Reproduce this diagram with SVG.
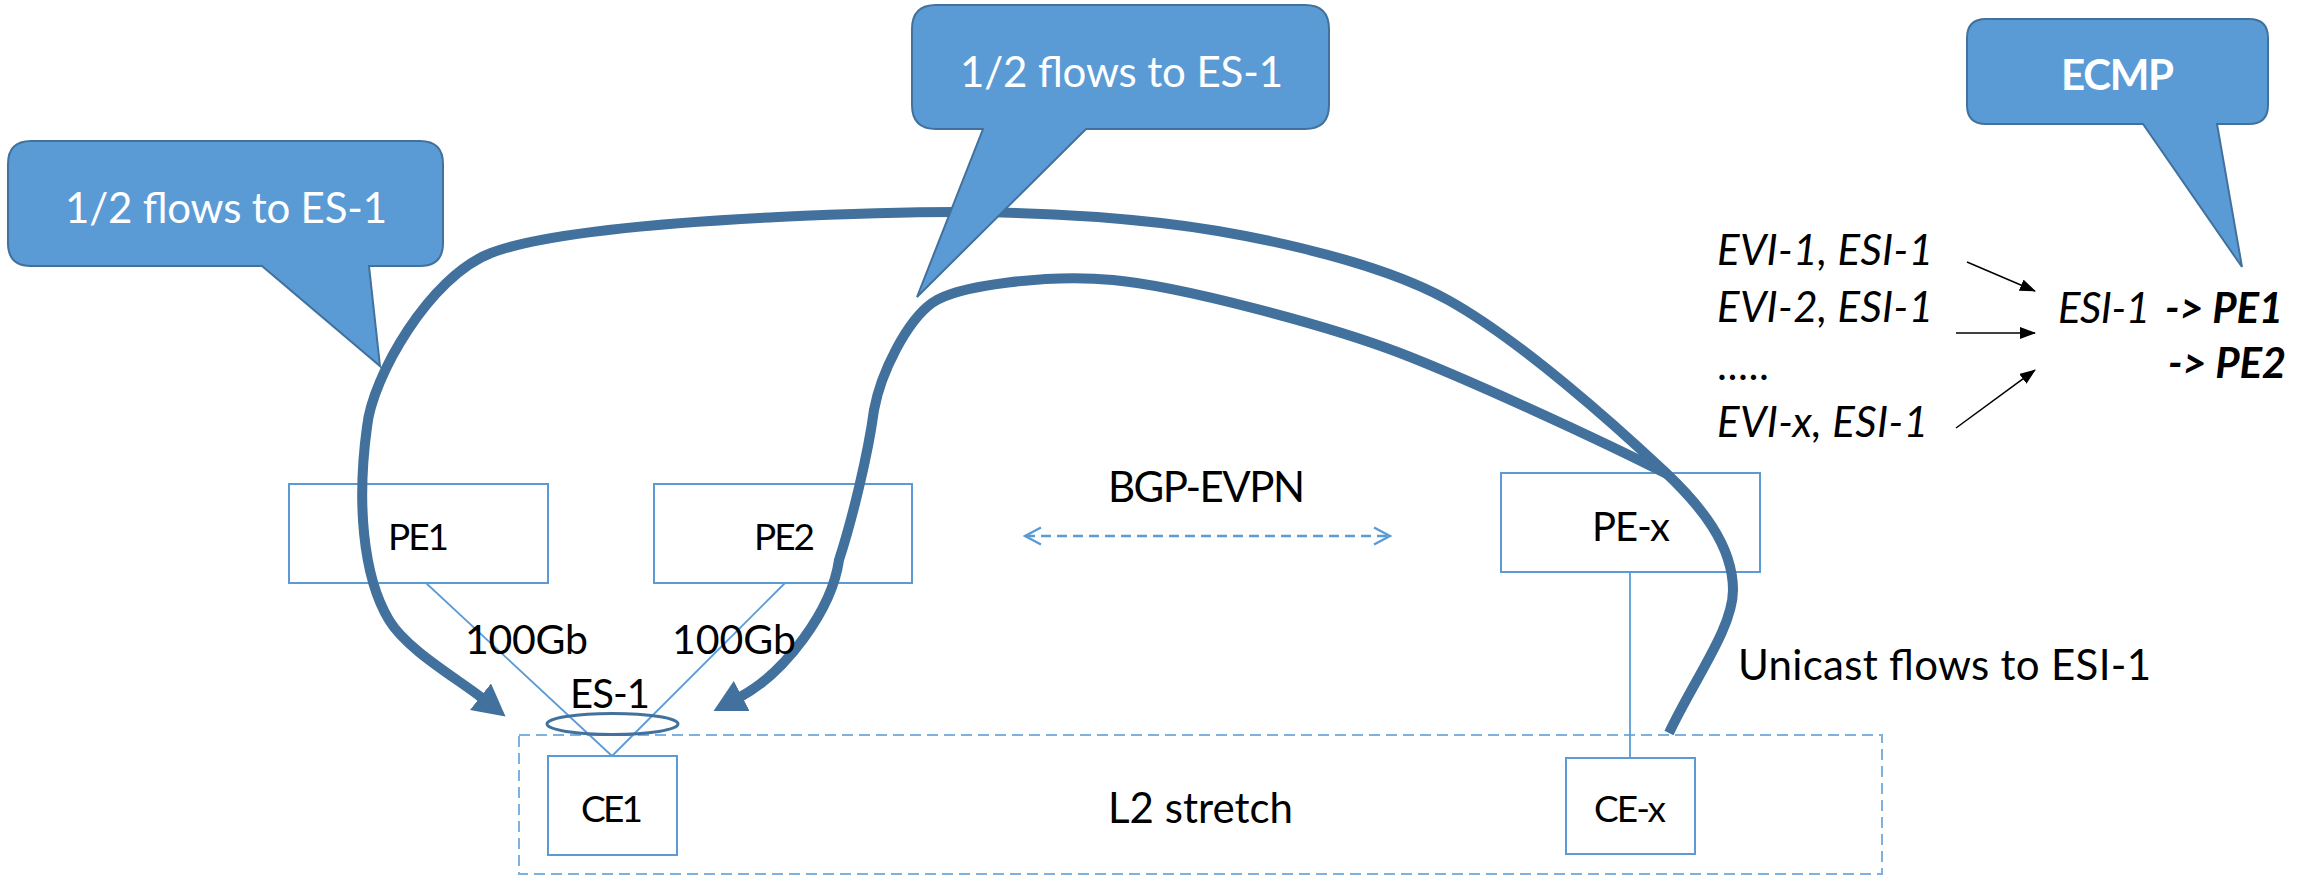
<svg xmlns="http://www.w3.org/2000/svg" width="2312" height="876" viewBox="0 0 2312 876">
<style>
.box{fill:none;stroke:#5B9BD5;stroke-width:2}
.link{fill:none;stroke:#5B9BD5;stroke-width:1.8}
.flow{fill:none;stroke:#41719C;stroke-width:10;stroke-linecap:butt}
.call{fill:#5B9BD5;stroke:#41719C;stroke-width:2;stroke-linejoin:miter}
.t{font-family:Lato,"Liberation Sans",sans-serif;fill:#000}
.w{fill:#fff}
.it{font-style:italic}
.b{font-weight:bold}
.thin{fill:none;stroke:#000;stroke-width:1.5}
</style>
<defs>
<marker id="big" markerUnits="userSpaceOnUse" viewBox="0 0 32 34" markerWidth="32" markerHeight="34" refX="2" refY="17" orient="auto">
<path d="M0,0 L32,17 L0,34 z" fill="#41719C"/>
</marker>
<marker id="small" markerUnits="userSpaceOnUse" viewBox="0 0 16 12" markerWidth="16" markerHeight="12" refX="15" refY="6" orient="auto">
<path d="M0,0 L16,6 L0,12 z" fill="#000"/>
</marker>
<marker id="chev" markerUnits="userSpaceOnUse" viewBox="0 0 20 20" markerWidth="20" markerHeight="20" refX="18" refY="10" orient="auto-start-reverse">
<path d="M2,1.5 L18,10 L2,18.5" fill="none" stroke="#5B9BD5" stroke-width="2.5"/>
</marker>
</defs>

<g id="l2-stretch">
<rect x="519" y="735" width="1363" height="139" fill="none" stroke="#7EB0E0" stroke-width="2" stroke-dasharray="11 6"/>
<text class="t" x="1108" y="823" font-size="42" textLength="185">L2 stretch</text>
</g>

<g id="pe1">
<rect class="box" x="289" y="484" width="259" height="99"/>
<text class="t" x="388" y="550" font-size="37" textLength="61">PE1</text>
</g>
<g id="pe2">
<rect class="box" x="654" y="484" width="258" height="99"/>
<text class="t" x="754" y="550" font-size="37" textLength="61">PE2</text>
</g>
<g id="pex">
<rect class="box" x="1501" y="473" width="259" height="99"/>
<text class="t" x="1592" y="541" font-size="40" textLength="78">PE-x</text>
</g>
<g id="ce1">
<rect class="box" x="548" y="756" width="129" height="99"/>
<text class="t" x="581" y="822" font-size="37" textLength="62">CE1</text>
</g>
<g id="cex">
<rect class="box" x="1566" y="758" width="129" height="96"/>
<text class="t" x="1594" y="822" font-size="37" textLength="72">CE-x</text>
</g>

<g id="connectors">
<line class="link" x1="426" y1="583" x2="612" y2="756"/>
<line class="link" x1="785" y1="583" x2="612" y2="756"/>
<line class="link" x1="1630" y1="572" x2="1630" y2="758"/>
<line x1="1025" y1="536" x2="1390" y2="536" stroke="#5B9BD5" stroke-width="2.5" stroke-dasharray="10 6" marker-start="url(#chev)" marker-end="url(#chev)"/>
<path class="flow" marker-end="url(#big)" d="M1669,733 C1695,678 1733,628 1733,590 C1733,545 1700,505 1665,472 C1615,425 1520,340 1448,300 C1368,256 1231,231 1161,223 C1031,208 908,211 778,217 C678,222 546,232 491,253 C430,276 372,377 367,427 C357,500 362,575 389,620 C407,650 458,679 482,698"/>
<path class="flow" marker-end="url(#big)" d="M1667,474 C1600,440 1470,380 1400,353 C1330,326 1180,286 1113,280 C1050,274 957,285 932,303 C907,321 881,372 874,410 C868,455 852,520 839,560 C832,610 785,673 740,697"/>
<line class="thin" x1="1967" y1="262" x2="2035" y2="291" marker-end="url(#small)"/>
<line class="thin" x1="1956" y1="333" x2="2035" y2="333" marker-end="url(#small)"/>
<line class="thin" x1="1956" y1="428" x2="2035" y2="370" marker-end="url(#small)"/>
</g>

<g id="es1">
<ellipse cx="612.5" cy="724" rx="65.5" ry="10.5" fill="none" stroke="#41719C" stroke-width="3"/>
<text class="t" x="570" y="708" font-size="40" textLength="80">ES-1</text>
</g>

<g id="labels">
<text class="t" x="465" y="654" font-size="41" textLength="123">100Gb</text>
<text class="t" x="672" y="654" font-size="41" textLength="124">100Gb</text>
<text class="t" x="1108" y="502" font-size="42" textLength="197">BGP-EVPN</text>
<text class="t" x="1738" y="680" font-size="42" textLength="413">Unicast flows to ESI-1</text>
</g>

<g id="ecmp-table">
<text class="t it" x="1717" y="265" font-size="42" textLength="216">EVI-1, ESI-1</text>
<text class="t it" x="1717" y="322" font-size="42" textLength="216">EVI-2, ESI-1</text>
<text class="t" x="1717" y="380" font-size="42" textLength="52">.....</text>
<text class="t it" x="1717" y="437" font-size="42" textLength="211">EVI-x, ESI-1</text>
<text class="t it" y="323" font-size="42"><tspan x="2058" textLength="92">ESI-1</tspan><tspan class="b" x="2165" textLength="118">-&gt; PE1</tspan></text>
<text class="t it b" x="2168" y="378" font-size="42" textLength="118">-&gt; PE2</text>
</g>

<g id="callout-1">
<path class="call" d="M31,141 H420 Q443,141 443,164 V243 Q443,266 420,266 H369 L380,366 L262,266 H31 Q8,266 8,243 V164 Q8,141 31,141 Z"/>
<text class="t w" x="65" y="223" font-size="42" textLength="322">1/2 flows to ES-1</text>
</g>
<g id="callout-2">
<path class="call" d="M936,5 H1305 Q1329,5 1329,29 V105 Q1329,129 1305,129 H1086 L917,297 L983,129 H936 Q912,129 912,105 V29 Q912,5 936,5 Z"/>
<text class="t w" x="960" y="87" font-size="42" textLength="323">1/2 flows to ES-1</text>
</g>
<g id="callout-ecmp">
<path class="call" d="M1986,19 H2249 Q2268,19 2268,38 V105 Q2268,124 2249,124 H2217 L2242,267 L2143,124 H1986 Q1967,124 1967,105 V38 Q1967,19 1986,19 Z"/>
<text class="t w b" x="2061" y="90" font-size="42" textLength="113">ECMP</text>
</g>
</svg>
